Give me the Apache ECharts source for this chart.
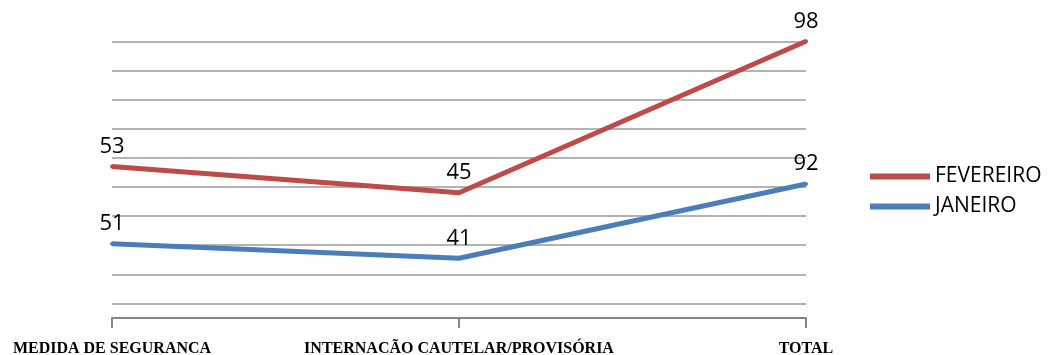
<!DOCTYPE html>
<html>
<head>
<meta charset="utf-8">
<script src="https://cdn.jsdelivr.net/npm/echarts@6/dist/echarts.min.js"></script>
<style>
html, body { margin: 0; padding: 0; background: #fff; }
#main { width: 1049px; height: 355px; }
</style>
</head>
<body>
<div id="main"></div>
<script>
var categories = ['MEDIDA DE SEGURANCA', 'INTERNACÃO CAUTELAR/PROVISÓRIA', 'TOTAL'];
var janeiro = [51, 41, 92];
var fevereiro = [53, 45, 98];

var myChart = echarts.init(document.getElementById('main'));
var option = {
	animation : false,
	legend : {
		data : [ 'FEVEREIRO', 'JANEIRO' ],
		orient : 'vertical',
		left : 865,
		top : 161,
		itemGap : 9,
		itemWidth : 60,
		itemHeight : 6,
		icon : 'rect',
		textStyle : {
			fontFamily : 'Open Sans',
			fontSize : 21,
			color : '#000'
		}
	},
	grid : {
		left : 112,
		right : 243,
		top : 41.3,
		bottom : 22.4,
		containLabel : false,
		outerBoundsMode : 'none'
	},
	xAxis : {
		type : 'category',
		boundaryGap : false,
		data : categories,
		axisLine : {
			onZero : true,
			lineStyle : { color : '#868686', width : 2 }
		},
		axisTick : {
			show : true,
			length : 10,
			lineStyle : { color : '#868686', width : 2 }
		},
		axisLabel : {
			interval : 0,
			hideOverlap : false,
			margin : 8,
			fontFamily : 'Liberation Serif',
			fontWeight : 'bold',
			fontSize : 16,
			color : '#000'
		}
	},
	yAxis : {
		type : 'value',
		min : -10,
		max : 190,
		interval : 20,
		axisLine : { show : false },
		axisTick : { show : false },
		axisLabel : { show : false },
		splitLine : {
			show : true,
			showMinLine : false,
			lineStyle : { color : '#b3b3b3', width : 2 }
		}
	},
	series : [ {
		name : 'JANEIRO',
		type : 'line',
		stack : 'total',
		data : janeiro,
		symbol : 'circle',
		symbolSize : 4,
		showSymbol : true,
		color : '#4a7ebb',
		lineStyle : { width : 5, color : '#4a7ebb' },
		label : {
			show : true,
			position : 'top',
			distance : 7,
			fontFamily : 'Open Sans',
			fontSize : 22,
			color : '#000'
		}
	}, {
		name : 'FEVEREIRO',
		type : 'line',
		stack : 'total',
		data : fevereiro,
		symbol : 'circle',
		symbolSize : 4,
		showSymbol : true,
		color : '#be4b48',
		lineStyle : { width : 5, color : '#be4b48' },
		label : {
			show : true,
			position : 'top',
			distance : 7,
			fontFamily : 'Open Sans',
			fontSize : 22,
			color : '#000'
		}
	} ]
};
myChart.setOption(option);
</script>
</body>
</html>
